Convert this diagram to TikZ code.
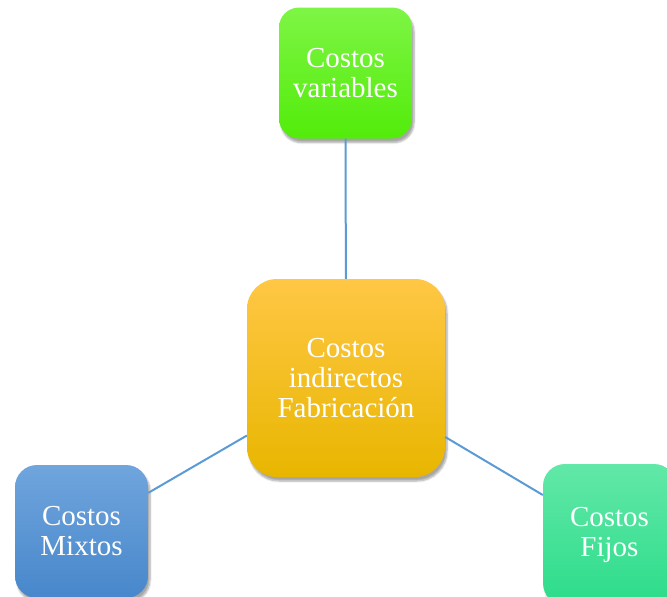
\documentclass[tikz,border=0pt]{standalone}
\usepackage{fontspec}
\setmainfont{Liberation Serif}
\usetikzlibrary{shadows.blur}
\definecolor{linkblue}{HTML}{5B9BD5}
\definecolor{grtop}{HTML}{7EF545}
\definecolor{grbot}{HTML}{52EC0A}
\definecolor{ortop}{HTML}{FFC745}
\definecolor{ormid}{HTML}{FFC200}
\definecolor{orbot}{HTML}{E8B600}
\definecolor{bltop}{HTML}{70A5DD}
\definecolor{blbot}{HTML}{4787CB}
\definecolor{tltop}{HTML}{62E8A8}
\definecolor{tlbot}{HTML}{2CDC8A}
\tikzset{
  box/.style={rounded corners=#1, draw=none, text=white, align=center,
    font=\fontsize{29}{30}\selectfont, inner sep=0pt,
    blur shadow={shadow xshift=2pt, shadow yshift=-4pt, shadow blur steps=6, shadow opacity=35}},
  greenbox/.style={box=20pt, minimum width=133pt, minimum height=131pt,
    top color=grtop, bottom color=grbot},
  orangebox/.style={box=30pt, minimum width=198pt, minimum height=198pt,
    top color=ortop, middle color=ormid, bottom color=orbot},
  bluebox/.style={box=22pt, minimum width=133pt, minimum height=133pt,
    top color=bltop, bottom color=blbot},
  tealbox/.style={box=22pt, minimum width=133pt, minimum height=141pt,
    top color=tltop, bottom color=tlbot},
  link/.style={draw=linkblue, line width=2pt},
}
\begin{document}
\begin{tikzpicture}[x=1pt,y=-1pt]
\useasboundingbox (0,0) rectangle (667,597);
\clip (0,0) rectangle (667,597);
\node[greenbox] (var) at (345.5,73) {Costos\\variables};
\node[orangebox] (cif) at (346,378) {Costos\\indirectos\\Fabricación};
\node[bluebox] (mix) at (81.5,531.5) {Costos\\Mixtos};
\node[tealbox] (fij) at (609.5,534.5) {Costos\\Fijos};
\draw[link] (cif) -- (var);
\draw[link] (cif) -- (mix);
\draw[link] (cif) -- (fij);
\end{tikzpicture}
\end{document}
